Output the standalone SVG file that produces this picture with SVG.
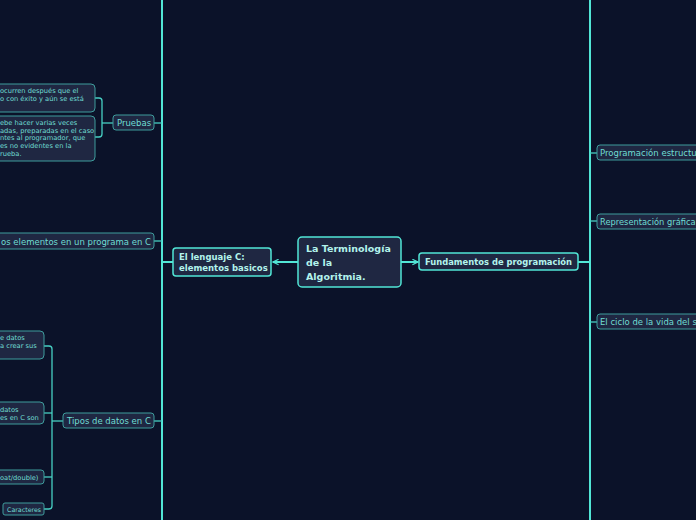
<svg xmlns="http://www.w3.org/2000/svg" width="696" height="520" viewBox="0 0 696 520">
<defs>
<style>
.bg{fill:#0b1229}
.main{fill:#1f2742;stroke:#52e6d6;stroke-width:1.5}
.sub{fill:#1f2742;stroke:#3e9c9c;stroke-width:1}
.t{font-family:"DejaVu Sans",sans-serif;fill:#6fdcd2}
.tb{font-family:"DejaVu Sans",sans-serif;font-weight:bold;fill:#b3f3ec}
.trunk{stroke:#52e6d6;stroke-width:2;fill:none}
.con{stroke:#47cfc3;stroke-width:1.3;fill:none}
</style>
<marker id="ah" viewBox="0 0 10 10" refX="9" refY="5" markerWidth="7" markerHeight="7" orient="auto-start-reverse" markerUnits="userSpaceOnUse">
<path d="M1,1 L9,5 L1,9" fill="none" stroke="#52e6d6" stroke-width="1.6"/>
</marker>
</defs>
<rect class="bg" x="0" y="0" width="696" height="520"/>
<g id="connectors">
<line class="trunk" x1="162" y1="0" x2="162" y2="520"/>
<line class="trunk" x1="590" y1="0" x2="590" y2="520"/>
<line class="trunk" x1="298" y1="262" x2="273" y2="262" marker-end="url(#ah)"/>
<line class="trunk" x1="401" y1="262" x2="418" y2="262" marker-end="url(#ah)"/>
<line class="trunk" x1="173" y1="262" x2="162" y2="262"/>
<line class="trunk" x1="578" y1="262" x2="590" y2="262"/>
<line class="con" x1="154" y1="123" x2="162" y2="123"/>
<line class="con" x1="154" y1="241" x2="162" y2="241"/>
<line class="con" x1="154" y1="421" x2="162" y2="421"/>
<path class="con" d="M590,153 H597"/>
<path class="con" d="M590,221 H597"/>
<path class="con" d="M590,322 H597"/>
<path class="con" d="M113,123 H102"/>
<path class="con" d="M95,98 H99 Q102,98 102,101 V134 Q102,137 99,137 H95"/>
<path class="con" d="M63,421 H52"/>
<path class="con" d="M44,346 H49 Q52,346 52,349 V506 Q52,509 49,509 H44"/>
<path class="con" d="M44,413 H52"/>
<path class="con" d="M44,477 H52"/>
</g>
<g id="central">
<rect class="main" x="298" y="237" width="103" height="50" rx="4"/>
<text class="tb" font-size="9.5"><tspan x="306" y="252">La Terminología</tspan><tspan x="306" y="266">de la</tspan><tspan x="306" y="280">Algoritmia.</tspan></text>
</g>
<g id="lenguaje">
<rect class="main" x="173" y="248" width="98" height="28" rx="3"/>
<text class="tb" font-size="8.5"><tspan x="179" y="260">El lenguaje C:</tspan><tspan x="179" y="271">elementos basicos</tspan></text>
</g>
<g id="fundamentos">
<rect class="main" x="419" y="253" width="159" height="17" rx="3"/>
<text class="tb" font-size="8.4" x="425" y="265">Fundamentos de programación</text>
</g>
<g id="prog-estructurada">
<rect class="sub" x="597" y="145" width="110" height="15" rx="3"/>
<text class="t" font-size="8.5" x="600" y="156">Programación estructu</text>
</g>
<g id="representacion">
<rect class="sub" x="597" y="214" width="110" height="15" rx="3"/>
<text class="t" font-size="8.3" x="600" y="224.5">Representación gráfica</text>
</g>
<g id="ciclo">
<rect class="sub" x="597" y="314" width="110" height="15" rx="3"/>
<text class="t" font-size="8.5" x="600" y="325">El ciclo de la vida del s</text>
</g>
<g id="pruebas">
<rect class="sub" x="113" y="115" width="41" height="15" rx="3"/>
<text class="t" font-size="8.5" x="117" y="126">Pruebas</text>
</g>
<g id="elementos">
<rect class="sub" x="-10" y="233" width="164" height="16" rx="3"/>
<text class="t" font-size="8.5" x="151" y="244.5" text-anchor="end">os elementos en un programa en C</text>
</g>
<g id="tipos">
<rect class="sub" x="63" y="413" width="91" height="15" rx="3"/>
<text class="t" font-size="8.5" x="67" y="424">Tipos de datos en C</text>
</g>
<g id="prueba-1">
<rect class="sub" x="-10" y="84" width="105" height="28" rx="4"/>
<text class="t" font-size="6.7"><tspan x="0" y="92.5">ocurren después que el</tspan><tspan x="0" y="100.5">o con éxito y aún se está</tspan></text>
</g>
<g id="prueba-2">
<rect class="sub" x="-10" y="116" width="105" height="45" rx="4"/>
<text class="t" font-size="6.7"><tspan x="0" y="125">ebe hacer varias veces</tspan><tspan x="0" y="132.7">adas, preparadas en el caso</tspan><tspan x="0" y="140.4">ntes al programador, que</tspan><tspan x="0" y="148.1">es no evidentes en la</tspan><tspan x="0" y="155.8">rueba.</tspan></text>
</g>
<g id="tipo-1">
<rect class="sub" x="-10" y="331" width="54" height="28" rx="4"/>
<text class="t" font-size="6.7"><tspan x="0" y="340">e datos</tspan><tspan x="0" y="348">a crear sus</tspan></text>
</g>
<g id="tipo-2">
<rect class="sub" x="-10" y="402" width="54" height="22" rx="4"/>
<text class="t" font-size="6.7"><tspan x="0" y="411.5">datos</tspan><tspan x="0" y="420">es en C son</tspan></text>
</g>
<g id="tipo-3">
<rect class="sub" x="-10" y="470" width="54" height="14" rx="3"/>
<text class="t" font-size="6.7" x="0" y="480">oat/double)</text>
</g>
<g id="caracteres">
<rect class="sub" x="3" y="503" width="41" height="12" rx="2"/>
<text class="t" font-size="6.3" x="7" y="511.5">Caracteres</text>
</g>
</svg>
